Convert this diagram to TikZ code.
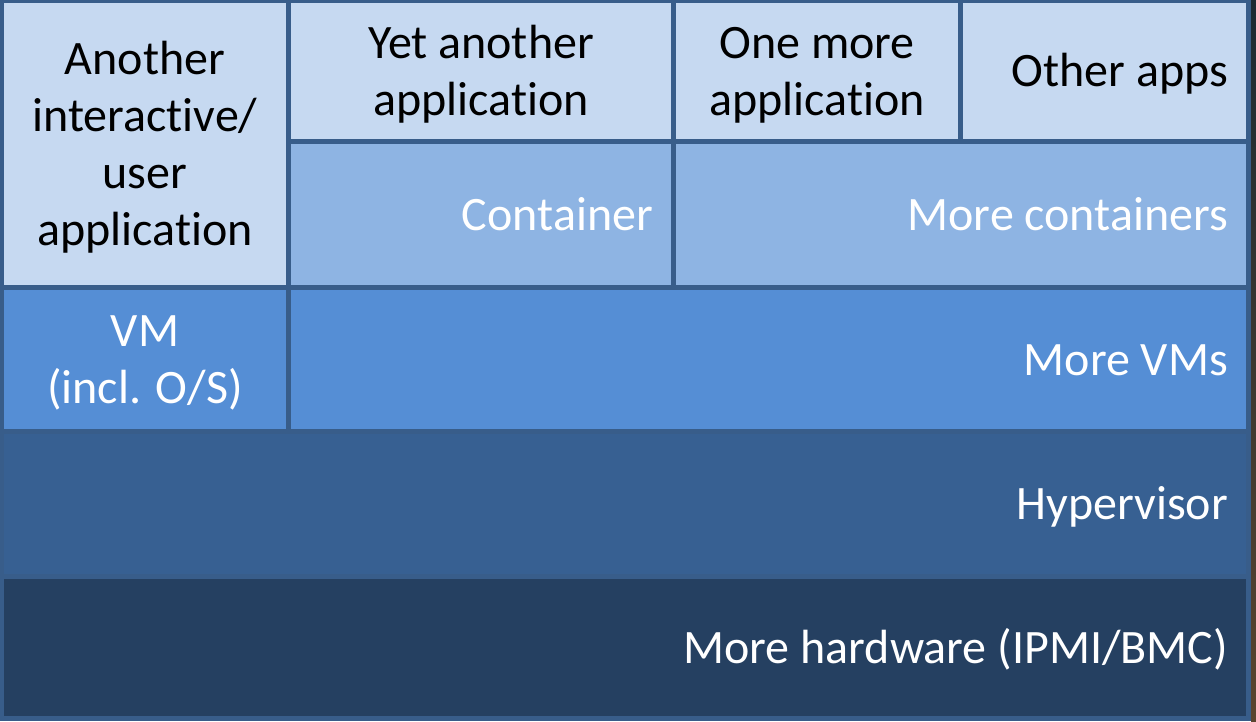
\documentclass[tikz,border=0pt]{standalone}
\usepackage{fontspec}
\setmainfont{Carlito}[Ligatures=NoCommon]
\definecolor{frame}{HTML}{385D8A}
\definecolor{appfill}{HTML}{C6D9F1}
\definecolor{ctfill}{HTML}{8EB4E3}
\definecolor{vmfill}{HTML}{558ED5}
\definecolor{hvfill}{HTML}{376092}
\definecolor{hwfill}{HTML}{254061}
\definecolor{stripTop}{HTML}{1B2A33}
\definecolor{stripBot}{HTML}{5A4530}
% line strut so every line box has the same height and depth
\newcommand\linestrut{\rule[-13pt]{0pt}{57pt}}
\tikzset{
  layer/.style={inner sep=0pt, outer sep=0pt, anchor=north west,
    font=\fontsize{48}{57}\selectfont},
  applayer/.style={layer, fill=appfill, text=black},
  ctlayer/.style={layer, fill=ctfill, text=white},
  vmlayer/.style={layer, fill=vmfill, text=white},
  hvlayer/.style={layer, fill=hvfill, text=white},
  hwlayer/.style={layer, fill=hwfill, text=white},
  centred/.style={align=flush center},
  flushright/.style={align=flush right, text width=#1}
}
\begin{document}
\begin{tikzpicture}[x=1pt,y=-1pt]
\useasboundingbox (0,0) rectangle (1256,721);
% outline colour shows through the gaps between layers
\fill[frame] (0,0) rectangle (1251,721);
\shade[top color=stripTop, bottom color=stripBot] (1251,0) rectangle (1256,721);

% application row
\node[applayer, centred, minimum width=282, minimum height=282] (user) at (4,3)
  {\linestrut Another\\\linestrut interactive/\\\linestrut user\\\linestrut application};
\node[applayer, centred, minimum width=380, minimum height=136] (yet) at (291,3)
  {\linestrut Yet another\\\linestrut application};
\node[applayer, centred, minimum width=282, minimum height=136] (one) at (676,3)
  {\linestrut One more\\\linestrut application};
\node[applayer, flushright=247, minimum width=283, minimum height=136] (other) at (963,3)
  {\linestrut Other apps};

% containers
\node[ctlayer, flushright=344, minimum width=380, minimum height=141] (cont) at (291,144)
  {\linestrut Container};
\node[ctlayer, flushright=534, minimum width=570, minimum height=141] (morecont) at (676,144)
  {\linestrut More containers};

% virtual machines
\node[vmlayer, centred, minimum width=282, minimum height=139] (vm) at (4,290)
  {\linestrut VM\\\linestrut (incl. O/S)};
\node[vmlayer, flushright=919, minimum width=955, minimum height=139] (morevm) at (291,290)
  {\linestrut More VMs};

% hypervisor and hardware
\node[hvlayer, flushright=1206, minimum width=1242, minimum height=140] (hyper) at (4,434)
  {\linestrut Hypervisor};
\node[hwlayer, flushright=1206, minimum width=1242, minimum height=137] (hw) at (4,579)
  {\linestrut More hardware (IPMI/BMC)};
\end{tikzpicture}
\end{document}
